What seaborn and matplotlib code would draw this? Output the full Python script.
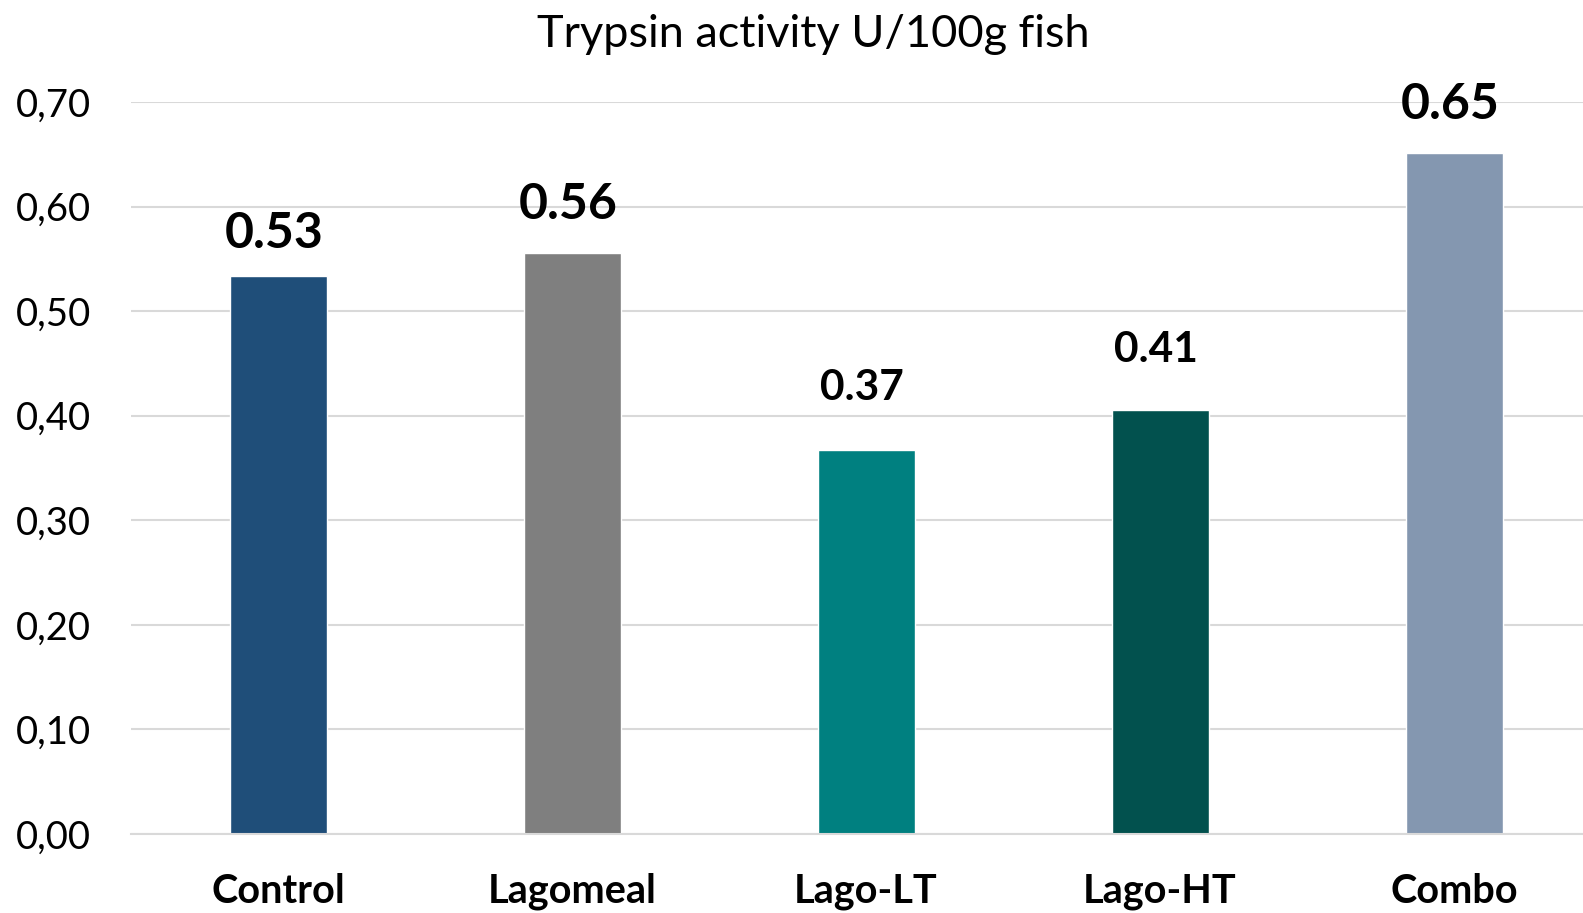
import pandas as pd
import matplotlib.pyplot as plt
import seaborn as sns

# ---- data ----
groups = ["Control", "Lagomeal", "Lago-LT", "Lago-HT", "Combo"]
trypsin = [0.534, 0.556, 0.367, 0.405, 0.651]
value_labels = ["0.53", "0.56", "0.37", "0.41", "0.65"]
y_ticks = [0.0, 0.1, 0.2, 0.3, 0.4, 0.5, 0.6, 0.7]

# ---- style ----
bar_colors = ["#1F4E79", "#7F7F7F", "#008080", "#02514E", "#8497B0"]
label_sizes = [36, 36, 30.5, 30.5, 36]
label_gaps = [28, 34, 50, 48, 34]   # pixels between bar top and label

sns.set_theme(style="white")
plt.rcParams['font.family'] = ['Lato', 'DejaVu Sans']
plt.rcParams['text.color'] = 'black'
plt.rcParams['xtick.color'] = 'black'
plt.rcParams['ytick.color'] = 'black'

df = pd.DataFrame({"group": groups, "value": trypsin})

fig = plt.figure(figsize=(15.83, 9.13), dpi=100)
ax = fig.add_axes([0.0828, 0.0865, 0.9286, 0.8018])

sns.barplot(data=df, x="group", y="value", hue="group", palette=bar_colors,
            width=0.33, legend=False, ax=ax, saturation=1)

ax.set_ylim(0, 0.70)
ax.set_xlim(-0.5, 4.5)
ax.set_yticks(y_ticks)
ax.set_yticklabels([f"{t:.2f}".replace(".", ",") for t in y_ticks], fontsize=27.5)
ax.yaxis.grid(True, color="#D9D9D9", linewidth=1.5)
ax.set_axisbelow(True)
ax.tick_params(axis="y", length=0, pad=29)
ax.tick_params(axis="x", length=0, pad=28)
for lab in ax.get_xticklabels():
    lab.set_fontsize(28.5)
    lab.set_fontweight("bold")
ax.set_xlabel("")
ax.set_ylabel("")
for s in ["top", "right", "left"]:
    ax.spines[s].set_visible(False)
ax.spines["bottom"].set_color("#D9D9D9")
ax.spines["bottom"].set_linewidth(1.5)

# value labels above bars
for i, (v, txt) in enumerate(zip(trypsin, value_labels)):
    ax.annotate(txt, xy=(i, v), xytext=(-4, label_gaps[i]), textcoords="offset pixels",
                ha="center", va="baseline", fontsize=label_sizes[i], fontweight="bold")

fig.text(0.514, 0.9485, "Trypsin activity U/100g fish", ha="center", va="baseline", fontsize=32.5)

fig.savefig("out.png", dpi=100)
